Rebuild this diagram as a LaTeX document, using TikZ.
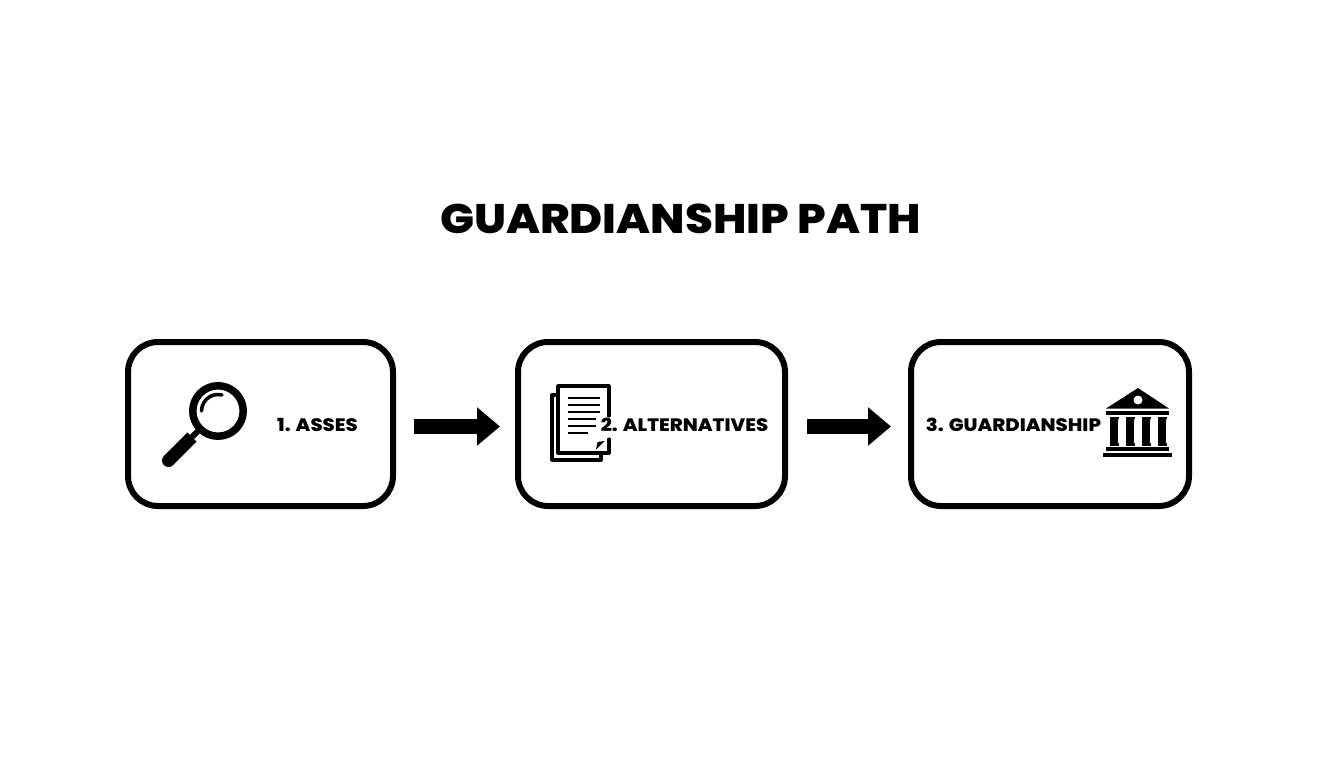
\documentclass[tikz,border=0pt]{standalone}
\usepackage{fontspec}
\setmainfont{Poppins}
\newfontfamily\wideheavy[FakeStretch=1.09]{Poppins ExtraBold}
\usetikzlibrary{arrows.meta}
\tikzset{
  stage/.style={draw=black,line width=6pt,rounded corners=30pt,fill=white,inner sep=0pt,minimum height=164pt},
  flow/.style={line width=15pt,black,-{Triangle[length=23pt,width=37pt]}},
  stagelabel/.style={font=\fontsize{18}{20}\wideheavy,inner sep=0pt,anchor=center,text=black},
  heading/.style={font=\fontsize{41.3}{43}\wideheavy,inner sep=0pt,text=black},
  pen/.style={line width=3.1pt,line join=round,line cap=round},
  rule/.style={line width=2.9pt}
}
\begin{document}
\begin{tikzpicture}[x=1pt,y=-1pt]
\useasboundingbox (0,0) rectangle (1344,768);
\fill[white] (0,0) rectangle (1344,768);
\node[heading] (title) at (680.5,219) {GUARDIANSHIP PATH};
\node[stage,minimum width=265pt] (box1) at (260.5,424) {};
\node[stage,minimum width=267pt] (box2) at (651.5,424) {};
\node[stage,minimum width=278pt] (box3) at (1050,424) {};
\draw[flow,shorten <=18pt,shorten >=15pt] ([yshift=-2.5pt]box1.east) -- ([yshift=-2.5pt]box2.west);
\draw[flow,shorten <=19pt,shorten >=17pt] ([yshift=-2.5pt]box2.east) -- ([yshift=-2.5pt]box3.west);
% magnifier
\draw[line width=7.5pt] (218,411) circle (25.25);
\draw[line width=3.5pt,line cap=round] (201.5,411) arc (180:284:16.5);
\draw[line width=6pt] (200,429) -- (192,437);
\draw[line width=13pt] (192,437) -- (168.5,460.5);
\fill (168.5,460.5) circle (6.5);
% document
\draw[pen] (609,416) -- (609,386) -- (558,386) -- (558,453) -- (609,453) -- (609,439);
\draw[pen] (555,395) -- (552,395) -- (552,460) -- (601,460) -- (601,455);
\foreach \yy/\xx in {398/600,405/600,412/600,419/596,426/596,433/588}
  \draw[rule] (567.5,\yy) -- (\xx,\yy);
\fill (596,449.5) -- (604.5,441) -- (597.5,442) -- cycle;
% court
\fill (1138,388) -- (1169,408.5) -- (1106,408.5) -- cycle;
\fill[white] (1138,400) circle (4.5);
\fill (1106,411) rectangle (1169,415);
\foreach \cx in {1114,1130,1146,1162}{
  \fill (\cx-4.5,416.5) rectangle (\cx+4.5,419);
  \fill (\cx-3.7,419) rectangle (\cx+3.7,443);
  \fill (\cx-4.5,443) rectangle (\cx+4.5,445.5);
}
\fill (1106,447) rectangle (1169,451);
\fill (1103,453) rectangle (1172,457);
% labels
\node[stagelabel] (l1) at (317.5,425) {1. ASSES};
\node[stagelabel] (l2) at (684.5,425) {2. ALTERNATIVES};
\node[stagelabel] (l3) at (1013.5,425) {3. GUARDIANSHIP};
\end{tikzpicture}
\end{document}
